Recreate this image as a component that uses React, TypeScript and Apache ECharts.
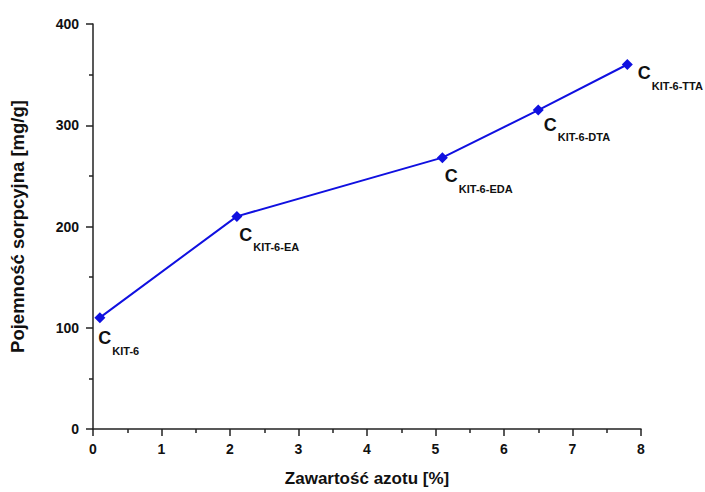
import React, { useEffect, useRef } from "react";
import * as echarts from "echarts";

const nitrogen = [0.1, 2.1, 5.1, 6.5, 7.8];
const capacity = [110, 210, 268, 315, 360];
const sampleSubscripts = ["KIT-6", "KIT-6-EA", "KIT-6-EDA", "KIT-6-DTA", "KIT-6-TTA"];
// label placement relative to marker box (layout only)
const labelPlacement: [number, number][] = [
  [4, 17],
  [8, 15],
  [8, 15],
  [11, 11],
  [16, 5],
];

export default function App() {
  const ref = useRef<HTMLDivElement>(null);
  useEffect(() => {
    if (!ref.current) return;
    const chart = echarts.init(ref.current, null, { renderer: "svg" });
    const font = "'Liberation Sans', Arial, sans-serif";
    const axisColor = "#222";
    chart.setOption({
      animation: false,
      backgroundColor: "#fff",
      grid: { left: 92, right: 64, top: 24, bottom: 59 },
      xAxis: {
        type: "value",
        min: 0,
        max: 8,
        interval: 1,
        name: "Zawartość azotu [%]",
        nameLocation: "middle",
        nameGap: 41,
        nameTextStyle: { fontFamily: font, fontWeight: "bold", fontSize: 17, color: "#111" },
        axisLine: { show: true, lineStyle: { color: axisColor, width: 1.5 } },
        axisTick: { show: true, length: 7, lineStyle: { color: axisColor, width: 1.5 } },
        minorTick: { show: true, splitNumber: 2, length: 4, lineStyle: { color: axisColor, width: 1.5 } },
        splitLine: { show: false },
        axisLabel: { fontFamily: font, fontWeight: "bold", fontSize: 14, color: "#111", margin: 13 },
      },
      yAxis: {
        type: "value",
        min: 0,
        max: 400,
        interval: 100,
        name: "Pojemność sorpcyjna [mg/g]",
        nameLocation: "middle",
        nameGap: 66,
        nameTextStyle: { fontFamily: font, fontWeight: "bold", fontSize: 18.5, color: "#111" },
        axisLine: { show: true, lineStyle: { color: axisColor, width: 1.5 } },
        axisTick: { show: true, length: 7, lineStyle: { color: axisColor, width: 1.5 } },
        minorTick: { show: true, splitNumber: 2, length: 4, lineStyle: { color: axisColor, width: 1.5 } },
        splitLine: { show: false },
        axisLabel: { fontFamily: font, fontWeight: "bold", fontSize: 14, color: "#111", margin: 14 },
      },
      series: [
        {
          type: "line",
          symbol: "diamond",
          symbolSize: 11,
          itemStyle: { color: "#1010e0" },
          lineStyle: { color: "#1010e0", width: 2 },
          data: nitrogen.map((x, i) => ({
            value: [x, capacity[i]],
            label: {
              show: true,
              position: labelPlacement[i],
              formatter: "{c|C}{s|" + sampleSubscripts[i] + "}",
              rich: {
                c: { fontFamily: font, fontWeight: "bold", fontSize: 18, color: "#111", verticalAlign: "top", lineHeight: 22 },
                s: { fontFamily: font, fontWeight: "bold", fontSize: 11, color: "#111", verticalAlign: "top", lineHeight: 22, padding: [16, 0, 0, 1] },
              },
            },
          })),
        },
      ],
    });
    return () => chart.dispose();
  }, []);
  return <div ref={ref} style={{ position: "absolute", left: 0, top: 0, width: 705, height: 492 }} />;
}
